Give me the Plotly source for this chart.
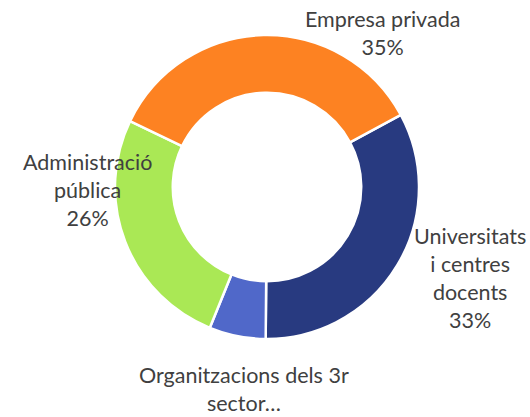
import plotly.graph_objects as go

labels = ["Universitats i centres docents", "Organitzacions dels 3r sector", "Administració pública", "Empresa privada"]
values = [33, 6, 26, 35]
colors = ["#283A80", "#5068C9", "#AAE855", "#FD8222"]
label_text = ["Universitats<br>i centres<br>docents<br>33%", "Organitzacions dels 3r<br>sector…",
              "Administració<br>pública<br>26%", "Empresa privada<br>35%"]
label_pos = [(470, 278), (244, 389), (87, 190), (382, 33)]

W, H = 530, 417
fig = go.Figure(go.Pie(
    labels=labels, values=values, sort=False, direction="clockwise", rotation=61.7,
    hole=0.62, marker=dict(colors=colors, line=dict(color="white", width=2.5)),
    textinfo="none", hoverinfo="label+percent",
    domain=dict(x=[115/W, 419/W], y=[(H-339)/H, (H-35)/H]),
))
for t, (px, py) in zip(label_text, label_pos):
    fig.add_annotation(text=t, x=px/W, y=1-py/H, xref="paper", yref="paper",
                       xanchor="center", yanchor="middle", showarrow=False,
                       borderpad=0, font=dict(family="Lato", size=21.5, color="#404040"))
fig.update_layout(width=W, height=H, margin=dict(l=0, r=0, t=0, b=0),
                  showlegend=False, paper_bgcolor="white", plot_bgcolor="white")
fig.write_html("out.html", config={"displayModeBar": False},
               post_script="document.body.style.margin='0';")
